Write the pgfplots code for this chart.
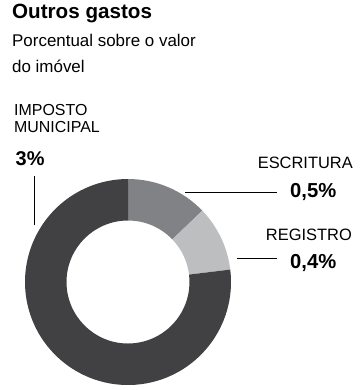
\documentclass[border=0pt]{standalone}
\usepackage{pgfplots}
\pgfplotsset{compat=1.18}
\usepackage{fontspec}
\setmainfont{Liberation Sans}
\definecolor{cImp}{HTML}{414042}
\definecolor{cEsc}{HTML}{808285}
\definecolor{cReg}{HTML}{BCBEC0}
\begin{document}
\begin{tikzpicture}[x=1bp,y=1bp]
\path[use as bounding box] (0,0) rectangle (360,-390);
% values (percent)
\pgfmathsetmacro{\vEsc}{0.5}
\pgfmathsetmacro{\vReg}{0.4}
\pgfmathsetmacro{\vImp}{3}
\pgfmathsetmacro{\tot}{\vEsc+\vReg+\vImp}
\pgfmathsetmacro{\aA}{90}
\pgfmathsetmacro{\aB}{\aA-360*\vEsc/\tot}
\pgfmathsetmacro{\aC}{\aB-360*\vReg/\tot}
\pgfmathsetmacro{\aD}{\aA-360}
\def\Ro{103}
\def\Ri{61.5}
\begin{axis}[at={(128bp,-282bp)}, anchor=origin, x=1bp, y=1bp,
  xmin=-110, xmax=110, ymin=-110, ymax=110, hide axis, clip=false]
\fill[cEsc] (axis cs:{\Ro*cos(\aA)},{\Ro*sin(\aA)}) arc[start angle=\aA, end angle=\aB, radius=\Ro bp]
  -- (axis cs:{\Ri*cos(\aB)},{\Ri*sin(\aB)}) arc[start angle=\aB, end angle=\aA, radius=\Ri bp] -- cycle;
\fill[cReg] (axis cs:{\Ro*cos(\aB)},{\Ro*sin(\aB)}) arc[start angle=\aB, end angle=\aC, radius=\Ro bp]
  -- (axis cs:{\Ri*cos(\aC)},{\Ri*sin(\aC)}) arc[start angle=\aC, end angle=\aB, radius=\Ri bp] -- cycle;
\fill[cImp] (axis cs:{\Ro*cos(\aC)},{\Ro*sin(\aC)}) arc[start angle=\aC, end angle=\aD, radius=\Ro bp]
  -- (axis cs:{\Ri*cos(\aD)},{\Ri*sin(\aD)}) arc[start angle=\aD, end angle=\aC, radius=\Ri bp] -- cycle;
\end{axis}
% titles
\node[anchor=base west, inner sep=0, font=\fontsize{20.7}{24}\selectfont\bfseries] at (12,-18.3) {Outros gastos};
\node[anchor=base west, inner sep=0, font=\fontsize{17}{20}\selectfont] at (12,-46.7) {Porcentual sobre o valor};
\node[anchor=base west, inner sep=0, font=\fontsize{17}{20}\selectfont] at (12,-72.7) {do imóvel};
% labels
\node[anchor=base west, inner sep=0, font=\fontsize{16}{18}\selectfont] at (14,-115) {IMPOSTO};
\node[anchor=base west, inner sep=0, font=\fontsize{16}{18}\selectfont] at (14,-132.7) {MUNICIPAL};
\node[anchor=base west, inner sep=0, font=\fontsize{20}{22}\selectfont\bfseries] at (15.5,-165) {3\%};
\draw[line width=0.9bp] (34.5,-176) -- (34.5,-225);
\node[anchor=base east, inner sep=0, font=\fontsize{16.5}{18}\selectfont] at (353,-168) {ESCRITURA};
\node[anchor=base west, inner sep=0, font=\fontsize{20.3}{22}\selectfont\bfseries] at (290,-197) {0,5\%};
\draw[line width=0.9bp] (185,-192) -- (277,-192);
\node[anchor=base east, inner sep=0, font=\fontsize{16.5}{18}\selectfont] at (352,-240) {REGISTRO};
\node[anchor=base west, inner sep=0, font=\fontsize{20.3}{22}\selectfont\bfseries] at (290,-268) {0,4\%};
\draw[line width=0.9bp] (237,-258) -- (277,-258);
\end{tikzpicture}
\end{document}
